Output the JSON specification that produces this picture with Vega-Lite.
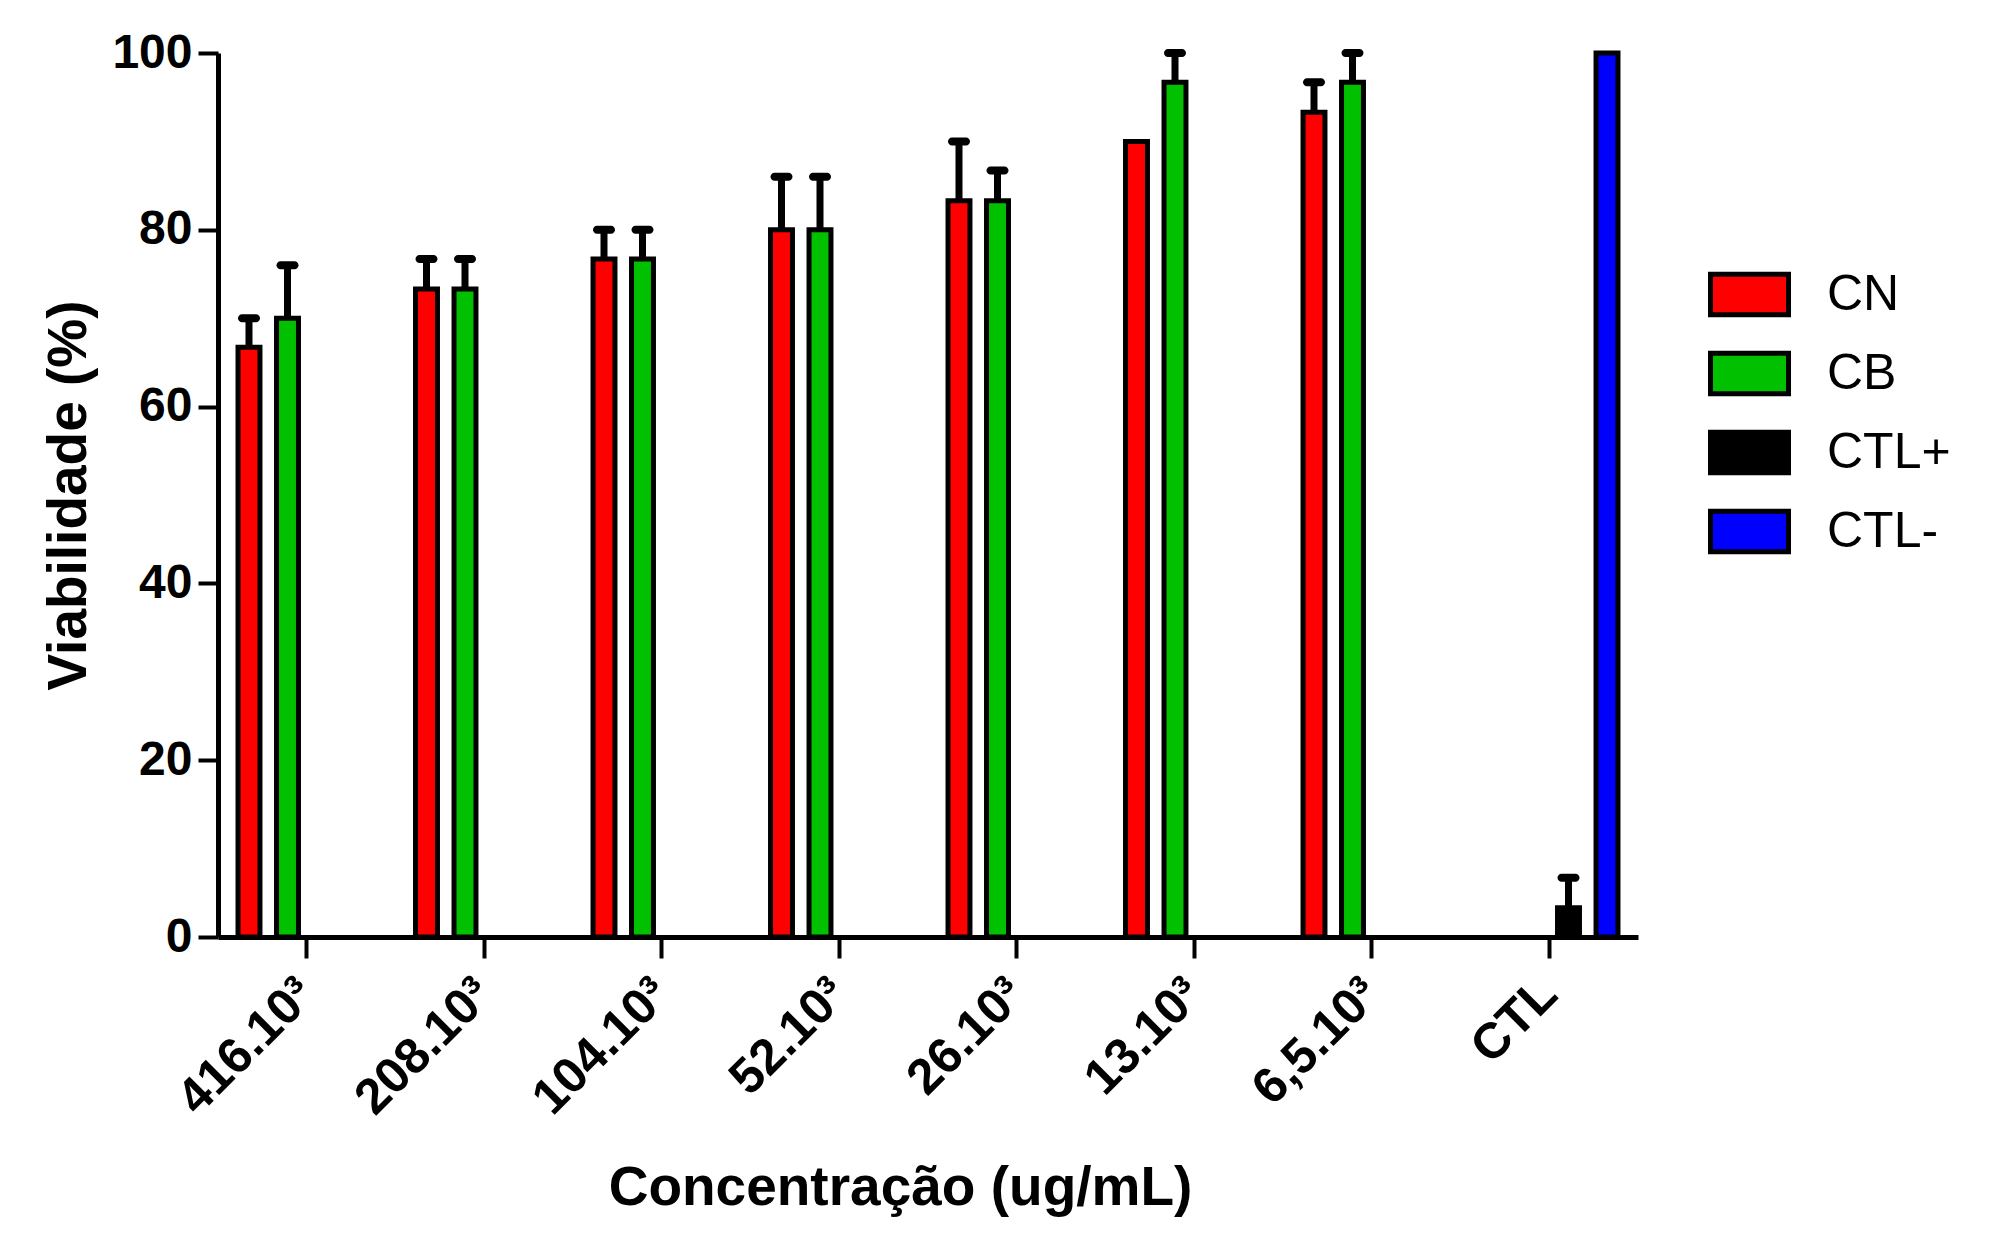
{
  "$schema": "https://vega.github.io/schema/vega-lite/v6.json",
  "description": "Viabilidade celular por concentração",
  "autosize": {"type": "none"},
  "padding": {"left": 218, "top": 53, "right": 357, "bottom": 304},
  "width": 1420,
  "height": 884,
  "background": "white",
  "data": {
    "values": [
      {"conc": "416.10³", "grupo": "CN", "v": 66.7, "hi": 70},
      {"conc": "416.10³", "grupo": "CB", "v": 70, "hi": 76},
      {"conc": "208.10³", "grupo": "CN", "v": 73.3, "hi": 76.7},
      {"conc": "208.10³", "grupo": "CB", "v": 73.3, "hi": 76.7},
      {"conc": "104.10³", "grupo": "CN", "v": 76.7, "hi": 80},
      {"conc": "104.10³", "grupo": "CB", "v": 76.7, "hi": 80},
      {"conc": "52.10³", "grupo": "CN", "v": 80, "hi": 86},
      {"conc": "52.10³", "grupo": "CB", "v": 80, "hi": 86},
      {"conc": "26.10³", "grupo": "CN", "v": 83.3, "hi": 90},
      {"conc": "26.10³", "grupo": "CB", "v": 83.3, "hi": 86.7},
      {"conc": "13.10³", "grupo": "CN", "v": 90, "hi": null},
      {"conc": "13.10³", "grupo": "CB", "v": 96.7, "hi": 100},
      {"conc": "6,5.10³", "grupo": "CN", "v": 93.3, "hi": 96.7},
      {"conc": "6,5.10³", "grupo": "CB", "v": 96.7, "hi": 100},
      {"conc": "CTL", "grupo": "CTL+", "v": 3.3, "hi": 6.7},
      {"conc": "CTL", "grupo": "CTL-", "v": 100, "hi": null}
    ]
  },
  "encoding": {
    "x": {
      "field": "conc",
      "type": "nominal",
      "sort": ["416.10³", "208.10³", "104.10³", "52.10³", "26.10³", "13.10³", "6,5.10³", "CTL"],
      "scale": {"paddingInner": 0, "paddingOuter": 0},
      "title": "Concentração (ug/mL)",
      "axis": {
        "labelAngle": -45,
        "labelAlign": "right",
        "labelBaseline": "middle",
        "labelFont": "Liberation Sans",
        "labelFontWeight": "bold",
        "labelFontSize": 50,
        "labelColor": "black",
        "labelPadding": 28,
        "tickSize": 21,
        "tickWidth": 4,
        "tickColor": "black",
        "domainWidth": 5,
        "domainColor": "black",
        "titleFont": "Liberation Sans",
        "titleFontWeight": "bold",
        "titleFontSize": 55,
        "titleColor": "black",
        "titleX": 682,
        "titlePadding": 38
      }
    },
    "xOffset": {
      "field": "grupo",
      "type": "nominal",
      "sort": ["CN", "CB", "CTL+", "CTL-"],
      "scale": {"domain": ["CN", "CB", "CTL+", "CTL-"], "paddingInner": 0.43, "paddingOuter": 0.52}
    }
  },
  "layer": [
    {
      "mark": {"type": "bar", "stroke": "black", "strokeWidth": 5},
      "encoding": {
        "y": {
          "field": "v",
          "type": "quantitative",
          "scale": {"domain": [0, 100], "nice": false},
          "title": "Viabilidade (%)",
          "axis": {
            "values": [0, 20, 40, 60, 80, 100],
            "grid": false,
            "labelFont": "Liberation Sans",
            "labelFontWeight": "bold",
            "labelFontSize": 48,
            "labelColor": "black",
            "labelPadding": 6,
            "tickSize": 20,
            "tickWidth": 4,
            "tickColor": "black",
            "domainWidth": 5,
            "domainColor": "black",
            "titleFont": "Liberation Sans",
            "titleFontWeight": "bold",
            "titleFontSize": 55,
            "titleColor": "black",
            "titlePadding": 14
          }
        },
        "fill": {
          "field": "grupo",
          "type": "nominal",
          "scale": {"domain": ["CN", "CB", "CTL+", "CTL-"], "range": ["#ff0000", "#00c000", "#000000", "#0000ff"]},
          "legend": {
            "title": null,
            "orient": "none",
            "legendX": 1490,
            "legendY": 200,
            "padding": 0,
            "symbolType": "M-1,-0.52H1V0.52H-1Z",
            "symbolSize": 6084,
            "symbolStrokeColor": "black",
            "symbolStrokeWidth": 5,
            "symbolOpacity": 1,
            "labelFont": "Liberation Sans",
            "labelFontSize": 50,
            "labelColor": "black",
            "labelOffset": 36,
            "rowPadding": 7
          }
        }
      }
    },
    {
      "transform": [{"filter": "datum.hi != null"}],
      "mark": {"type": "rule", "color": "black", "strokeWidth": 7},
      "encoding": {
        "y": {"field": "v", "type": "quantitative"},
        "y2": {"field": "hi"}
      }
    },
    {
      "transform": [{"filter": "datum.hi != null"}],
      "mark": {"type": "tick", "color": "black", "size": 22, "thickness": 8, "cornerRadius": 4, "orient": "horizontal", "opacity": 1},
      "encoding": {
        "y": {"field": "hi", "type": "quantitative"}
      }
    }
  ],
  "config": {
    "view": {"stroke": null},
    "axisY": {"grid": false}
  }
}
